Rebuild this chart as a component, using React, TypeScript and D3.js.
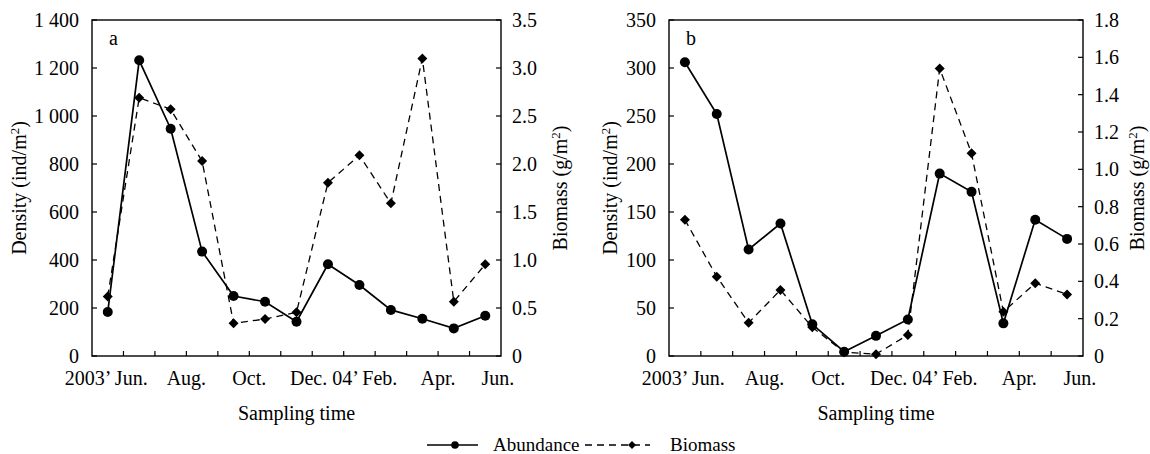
import React from 'react';
import * as d3 from 'd3';

// sampling months: 2003 Jun .. 2004 Jun
const months = ['Jun', 'Jul', 'Aug', 'Sep', 'Oct', 'Nov', 'Dec', 'Jan', 'Feb', 'Mar', 'Apr', 'May', 'Jun'];

// panel a
const densityA = [183, 1232, 947, 435, 250, 226, 143, 382, 296, 192, 155, 115, 168];
const biomassA = [0.62, 2.69, 2.57, 2.03, 0.34, 0.385, 0.455, 1.805, 2.09, 1.59, 3.1, 0.566, 0.955];

// panel b
const densityB = [306, 252, 111, 138, 33, 4.5, 21, 38, 190, 171, 34, 142, 122];
const biomassB = [0.73, 0.425, 0.178, 0.354, 0.154, 0.02, 0.01, 0.1125, 1.54, 1.086, 0.237, 0.39, 0.33];

// tick labels
const densityTicksA = [0, 200, 400, 600, 800, 1000, 1200, 1400];
const biomassTicksA = [0, 0.5, 1.0, 1.5, 2.0, 2.5, 3.0, 3.5];
const densityTicksB = [0, 50, 100, 150, 200, 250, 300, 350];
const biomassTicksB = [0, 0.2, 0.4, 0.6, 0.8, 1.0, 1.2, 1.4, 1.6, 1.8];
const timeLabels = ['2003\u2019 Jun.', 'Aug.', 'Oct.', 'Dec. 04\u2019 Feb.', 'Apr.', 'Jun.'];
const timeLabelPos = [0.45, 3, 5, 8, 11, 12.9];

const FONT = "'Liberation Serif', 'Times New Roman', Times, serif";

const fmtDensity = (v: number) => (v >= 1000 ? `${Math.floor(v / 1000)} ${d3.format('03d')(v % 1000)}` : `${v}`);
const fmtBio = (v: number) => (v === 0 ? '0' : v.toFixed(1));

function Panel({ left, right, density, biomass, dTicks, bTicks, dMax, bMax, letter, yLabelLeft, yLabelRight }) {
  const top = 20;
  const bottom = 356;
  const x = d3.scaleLinear().domain([0, months.length]).range([left, right]);
  const yD = d3.scaleLinear().domain([0, dMax]).range([bottom, top]);
  const yB = d3.scaleLinear().domain([0, bMax]).range([bottom, top]);

  const lineD = d3.line<number>().x((d, i) => x(i + 0.5)).y(d => yD(d));
  const lineB = d3.line<number>().x((d, i) => x(i + 0.5)).y(d => yB(d));
  const diamond = d3.symbol().type(d3.symbolSquare).size(50)();

  return (
    <g style={{ fontFamily: FONT, fontSize: 20 }} fill="#000">
      <rect x={left} y={top} width={right - left} height={bottom - top} fill="none" stroke="#000" strokeWidth={1.4} />
      {/* left ticks */}
      {dTicks.map(t => (
        <g key={'d' + t}>
          <line x1={left} x2={left + 5} y1={yD(t)} y2={yD(t)} stroke="#000" strokeWidth={1.2} />
          <text x={left - 13} y={yD(t)} dy="0.35em" textAnchor="end">{fmtDensity(t)}</text>
        </g>
      ))}
      {/* right ticks */}
      {bTicks.map(t => (
        <g key={'b' + t}>
          <line x1={right - 5} x2={right} y1={yB(t)} y2={yB(t)} stroke="#000" strokeWidth={1.2} />
          <text x={right + 11} y={yB(t)} dy="0.35em" textAnchor="start">{fmtBio(t)}</text>
        </g>
      ))}
      {/* bottom ticks */}
      {d3.range(1, months.length).map(i => (
        <line key={'x' + i} x1={x(i)} x2={x(i)} y1={bottom} y2={bottom - 5} stroke="#000" strokeWidth={1.2} />
      ))}
      {timeLabels.map((l, i) => (
        <text key={l + i} x={x(timeLabelPos[i])} y={385} textAnchor="middle">{l}</text>
      ))}
      <text x={(left + right) / 2} y={420} textAnchor="middle">Sampling time</text>
      <text transform={`translate(${yLabelLeft},188) rotate(-90)`} textAnchor="middle">
        Density (ind/m<tspan dy="-7" style={{ fontSize: 13 }}>2</tspan><tspan dy="7">)</tspan>
      </text>
      <text transform={`translate(${yLabelRight},188) rotate(-90)`} textAnchor="middle">
        Biomass (g/m<tspan dy="-7" style={{ fontSize: 13 }}>2</tspan><tspan dy="7">)</tspan>
      </text>
      <text x={left + 17} y={45}>{letter}</text>

      {/* biomass dashed */}
      <path d={lineB(biomass) || ''} fill="none" stroke="#000" strokeWidth={1.3} strokeDasharray="7,5" />
      {biomass.map((v, i) => (
        <path key={'bm' + i} d={diamond} transform={`translate(${x(i + 0.5)},${yB(v)}) rotate(45)`} fill="#000" />
      ))}
      {/* abundance solid */}
      <path d={lineD(density) || ''} fill="none" stroke="#000" strokeWidth={1.7} />
      {density.map((v, i) => (
        <circle key={'dm' + i} cx={x(i + 0.5)} cy={yD(v)} r={5} fill="#000" />
      ))}
    </g>
  );
}

export default function App() {
  const diamond = d3.symbol().type(d3.symbolSquare).size(32)();
  return (
    <svg width={1150} height={454} style={{ position: 'absolute', left: 0, top: 0, background: '#fff' }}>
      <rect width={1150} height={454} fill="#fff" />
      <Panel left={92} right={501} density={densityA} biomass={biomassA} dTicks={densityTicksA} bTicks={biomassTicksA}
        dMax={1400} bMax={3.5} letter="a" yLabelLeft={26} yLabelRight={567} />
      <Panel left={669} right={1083} density={densityB} biomass={biomassB} dTicks={densityTicksB} bTicks={biomassTicksB}
        dMax={350} bMax={1.8} letter="b" yLabelLeft={617} yLabelRight={1144} />
      {/* legend */}
      <g style={{ fontFamily: FONT, fontSize: 19 }}>
        <line x1={427} x2={478} y1={445} y2={445} stroke="#000" strokeWidth={1.7} />
        <circle cx={455} cy={445} r={3.8} fill="#000" />
        <text x={493} y={451}>Abundance</text>
        <line x1={585} x2={650} y1={445} y2={445} stroke="#000" strokeWidth={1.3} strokeDasharray="7,5" />
        <path d={diamond} transform="translate(632,445) rotate(45)" fill="#000" />
        <text x={670} y={451}>Biomass</text>
      </g>
    </svg>
  );
}
